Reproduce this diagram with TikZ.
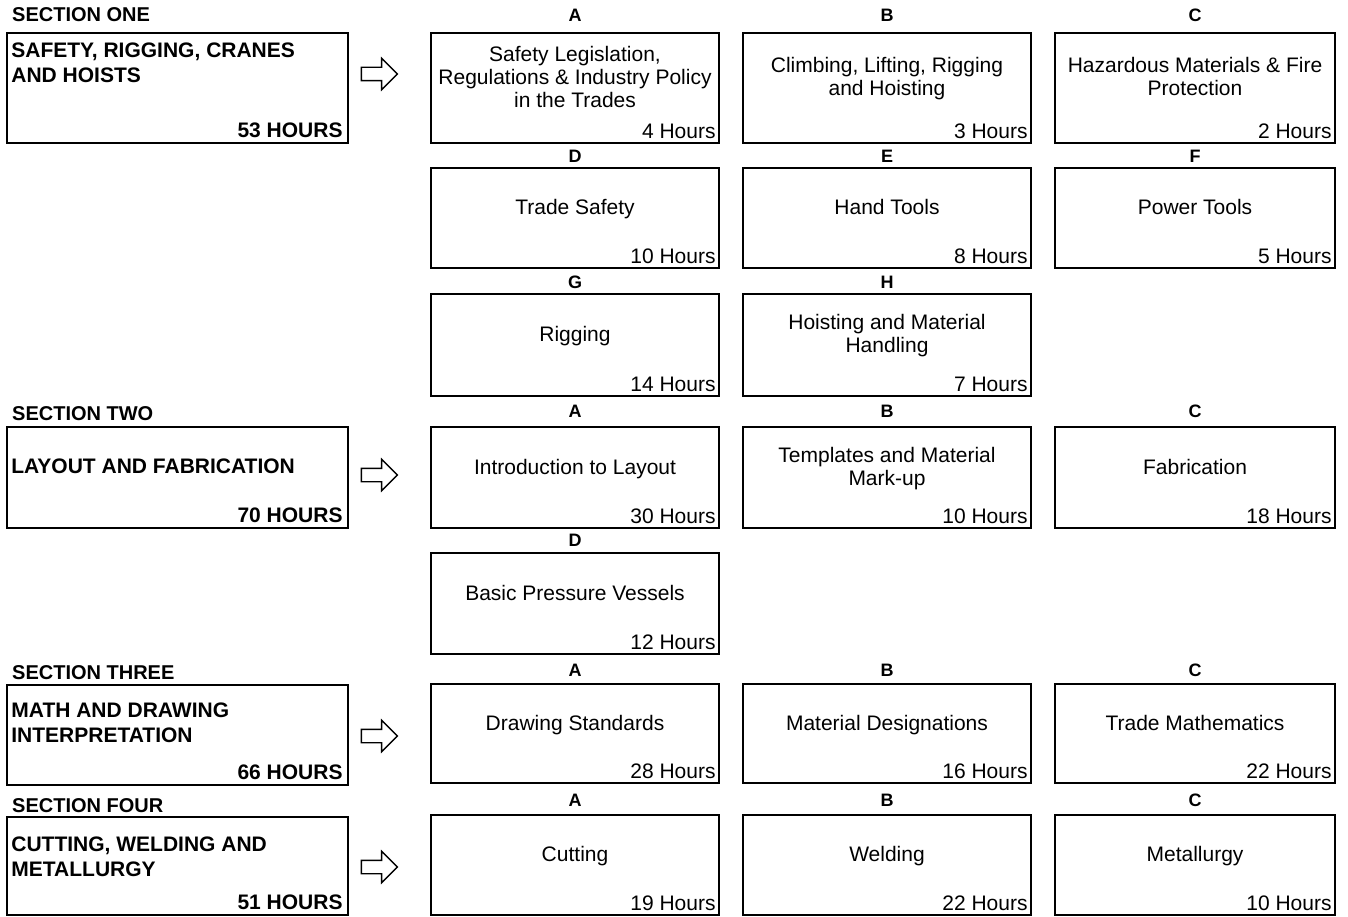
\documentclass[tikz,border=0pt]{standalone}
\usepackage{fontspec}
\setmainfont{Liberation Sans}
\usetikzlibrary{shapes.arrows, positioning}
\tikzset{
  secbox/.style={draw, line width=1.6pt, minimum width=341pt, inner sep=0pt},
  modbox/.style={draw, line width=1.6pt, minimum width=288pt, inner sep=0pt},
  seclabel/.style={anchor=base west, inner sep=0pt, font=\fontsize{20}{24}\selectfont\bfseries},
  sectitle/.style={anchor=north west, align=left, inner sep=0pt, font=\fontsize{21}{25}\selectfont\bfseries},
  sechrs/.style={anchor=base east, inner sep=0pt, xshift=-6pt, yshift=6pt, font=\fontsize{21}{25}\selectfont\bfseries},
  modtitle/.style={align=center, inner sep=0pt, yshift=8pt, font=\fontsize{21}{23}\selectfont,
                   execute at begin node=\strut, execute at end node=\strut},
  modhrs/.style={anchor=base east, inner sep=0pt, xshift=-4pt, yshift=5pt, font=\fontsize{21}{23}\selectfont},
  modletter/.style={anchor=base, inner sep=0pt, yshift=#1, font=\fontsize{18}{21}\selectfont\bfseries},
  modletter/.default=6pt,
  blockarr/.style={draw, fill=white, line width=1.4pt, single arrow, single arrow head extend=9pt,
                   minimum height=36pt, inner xsep=0pt, inner ysep=6pt},
}
\begin{document}
\begin{tikzpicture}[x=1pt, y=-1pt]
  \useasboundingbox (0,0) rectangle (1348,917);

  %% ── Section one ──
  \node[seclabel] (lbl1) at (12,22) {SECTION ONE};
  \node[secbox, minimum height=110pt] (sec1) at (177.5,88) {};
  \node[sectitle] (sec1t) at ([shift={(5,10)}]sec1.north west) {SAFETY, RIGGING, CRANES\\AND HOISTS};
  \node[sechrs] (sec1h) at (sec1.south east) {53 HOURS};
  \node[blockarr] (ar1) at (376,74) {};

  % row A-C
  \node[modbox, minimum height=110pt] (m1a) at (575,88) {};
  \node[modbox, minimum height=110pt] (m1b) at (887,88) {};
  \node[modbox, minimum height=110pt, minimum width=280pt] (m1c) at (1195,88) {};
  \node[modletter=11pt] at (m1a.north) {A};
  \node[modletter=11pt] at (m1b.north) {B};
  \node[modletter=11pt] at (m1c.north) {C};
  \node[modtitle] at (m1a.center) {Safety Legislation,\\Regulations \& Industry Policy\\in the Trades};
  \node[modtitle] at (m1b.center) {Climbing, Lifting, Rigging\\and Hoisting};
  \node[modtitle] at (m1c.center) {Hazardous Materials \& Fire\\Protection};
  \node[modhrs] at (m1a.south east) {4 Hours};
  \node[modhrs] at (m1b.south east) {3 Hours};
  \node[modhrs] at (m1c.south east) {2 Hours};

  % row D-F
  \node[modbox, minimum height=100pt] (m1d) at (575,218) {};
  \node[modbox, minimum height=100pt] (m1e) at (887,218) {};
  \node[modbox, minimum height=100pt, minimum width=280pt] (m1f) at (1195,218) {};
  \node[modletter=5pt] at (m1d.north) {D};
  \node[modletter=5pt] at (m1e.north) {E};
  \node[modletter=5pt] at (m1f.north) {F};
  \node[modtitle] at (m1d.center) {Trade Safety};
  \node[modtitle] at (m1e.center) {Hand Tools};
  \node[modtitle] at (m1f.center) {Power Tools};
  \node[modhrs] at (m1d.south east) {10 Hours};
  \node[modhrs] at (m1e.south east) {8 Hours};
  \node[modhrs] at (m1f.south east) {5 Hours};

  % row G-H
  \node[modbox, minimum height=102pt] (m1g) at (575,345) {};
  \node[modbox, minimum height=102pt] (m1h) at (887,345) {};
  \node[modletter=5pt] at (m1g.north) {G};
  \node[modletter=5pt] at (m1h.north) {H};
  \node[modtitle] at (m1g.center) {Rigging};
  \node[modtitle] at (m1h.center) {Hoisting and Material\\Handling};
  \node[modhrs] at (m1g.south east) {14 Hours};
  \node[modhrs] at (m1h.south east) {7 Hours};

  %% ── Section two ──
  \node[seclabel] (lbl2) at (12,420) {SECTION TWO};
  \node[secbox, minimum height=101pt] (sec2) at (177.5,477.5) {};
  \node[sectitle] (sec2t) at ([shift={(5,32)}]sec2.north west) {LAYOUT AND FABRICATION};
  \node[sechrs] (sec2h) at (sec2.south east) {70 HOURS};
  \node[blockarr] (ar2) at (376,475) {};

  \node[modbox, minimum height=101pt] (m2a) at (575,477.5) {};
  \node[modbox, minimum height=101pt] (m2b) at (887,477.5) {};
  \node[modbox, minimum height=101pt, minimum width=280pt] (m2c) at (1195,477.5) {};
  \node[modletter=9pt] at (m2a.north) {A};
  \node[modletter=9pt] at (m2b.north) {B};
  \node[modletter=9pt] at (m2c.north) {C};
  \node[modtitle] at (m2a.center) {Introduction to Layout};
  \node[modtitle] at (m2b.center) {Templates and Material\\Mark-up};
  \node[modtitle] at (m2c.center) {Fabrication};
  \node[modhrs] at (m2a.south east) {30 Hours};
  \node[modhrs] at (m2b.south east) {10 Hours};
  \node[modhrs] at (m2c.south east) {18 Hours};

  \node[modbox, minimum height=101pt] (m2d) at (575,603.5) {};
  \node[modletter] at (m2d.north) {D};
  \node[modtitle] at (m2d.center) {Basic Pressure Vessels};
  \node[modhrs] at (m2d.south east) {12 Hours};

  %% ── Section three ──
  \node[seclabel] (lbl3) at (12,679) {SECTION THREE};
  \node[secbox, minimum height=100pt] (sec3) at (177.5,735) {};
  \node[sectitle] (sec3t) at ([shift={(5,18)}]sec3.north west) {MATH AND DRAWING\\INTERPRETATION};
  \node[sechrs] (sec3h) at (sec3.south east) {66 HOURS};
  \node[blockarr] (ar3) at (376,736) {};

  \node[modbox, minimum height=99pt] (m3a) at (575,733.5) {};
  \node[modbox, minimum height=99pt] (m3b) at (887,733.5) {};
  \node[modbox, minimum height=99pt, minimum width=280pt] (m3c) at (1195,733.5) {};
  \node[modletter=7pt] at (m3a.north) {A};
  \node[modletter=7pt] at (m3b.north) {B};
  \node[modletter=7pt] at (m3c.north) {C};
  \node[modtitle] at (m3a.center) {Drawing Standards};
  \node[modtitle] at (m3b.center) {Material Designations};
  \node[modtitle] at (m3c.center) {Trade Mathematics};
  \node[modhrs] at (m3a.south east) {28 Hours};
  \node[modhrs] at (m3b.south east) {16 Hours};
  \node[modhrs] at (m3c.south east) {22 Hours};

  %% ── Section four ──
  \node[seclabel] (lbl4) at (12,812) {SECTION FOUR};
  \node[secbox, minimum height=98pt] (sec4) at (177.5,866) {};
  \node[sectitle] (sec4t) at ([shift={(5,20)}]sec4.north west) {CUTTING, WELDING AND\\METALLURGY};
  \node[sechrs] (sec4h) at (sec4.south east) {51 HOURS};
  \node[blockarr] (ar4) at (376,867) {};

  \node[modbox, minimum height=100pt] (m4a) at (575,865) {};
  \node[modbox, minimum height=100pt] (m4b) at (887,865) {};
  \node[modbox, minimum height=100pt, minimum width=280pt] (m4c) at (1195,865) {};
  \node[modletter=8pt] at (m4a.north) {A};
  \node[modletter=8pt] at (m4b.north) {B};
  \node[modletter=8pt] at (m4c.north) {C};
  \node[modtitle] at (m4a.center) {Cutting};
  \node[modtitle] at (m4b.center) {Welding};
  \node[modtitle] at (m4c.center) {Metallurgy};
  \node[modhrs] at (m4a.south east) {19 Hours};
  \node[modhrs] at (m4b.south east) {22 Hours};
  \node[modhrs] at (m4c.south east) {10 Hours};
\end{tikzpicture}
\end{document}
